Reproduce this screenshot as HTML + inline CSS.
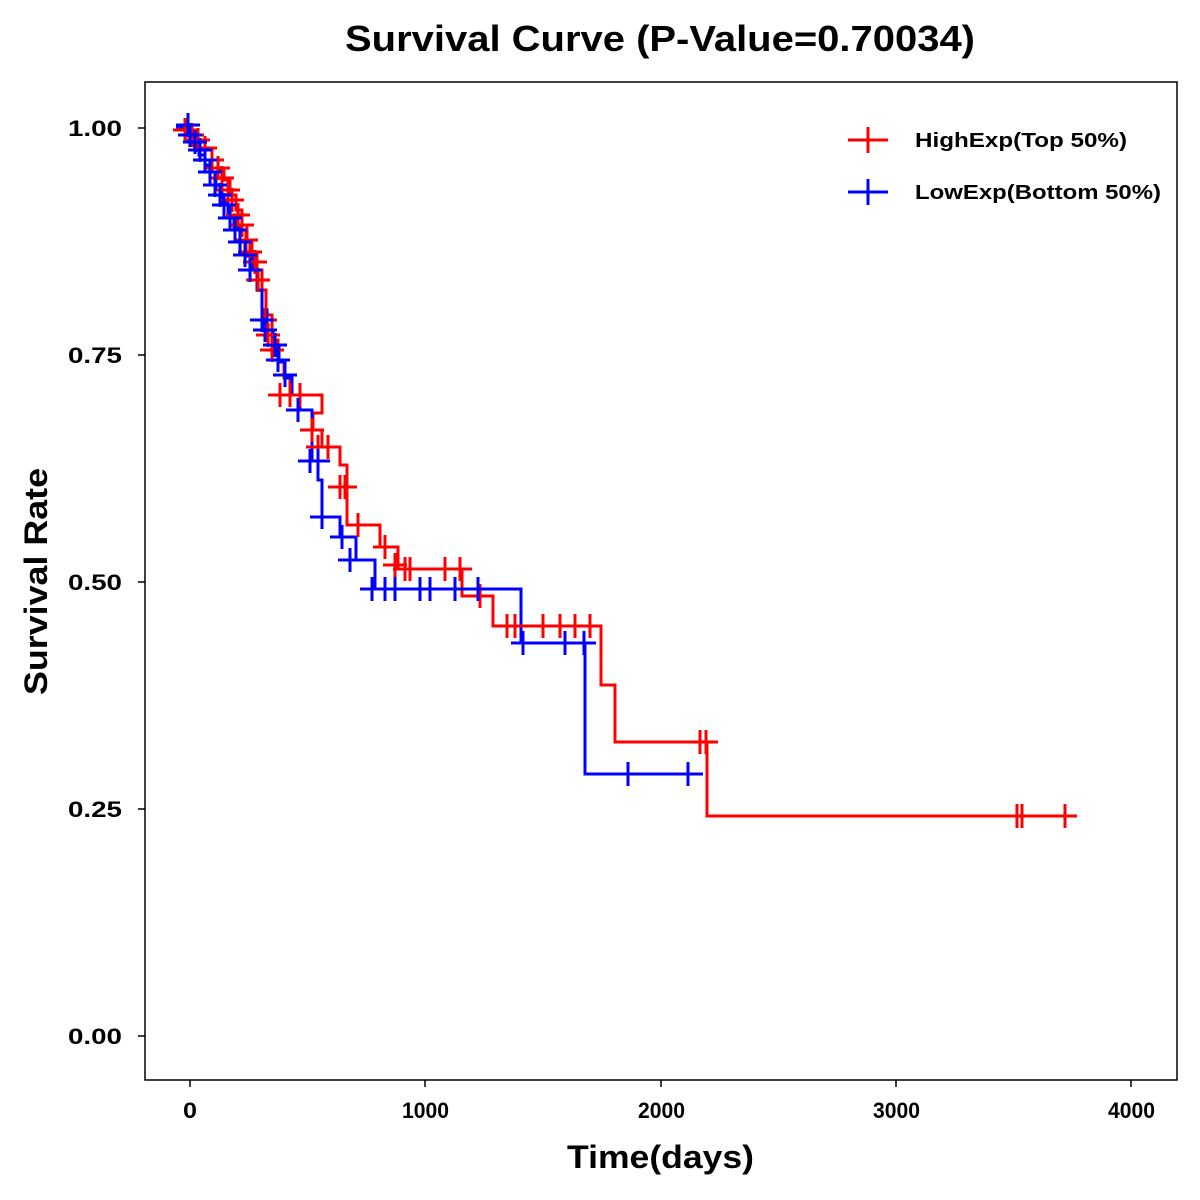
<!DOCTYPE html>
<html><head><meta charset="utf-8"><style>
html,body{margin:0;padding:0;background:#fff;}
svg{display:block;font-family:"Liberation Sans",Arial,sans-serif;}
</style></head><body>
<svg width="1200" height="1200" viewBox="0 0 1200 1200" xmlns="http://www.w3.org/2000/svg">
<rect width="1200" height="1200" fill="#fff"/>
<text x="345" y="51" font-size="36" font-weight="bold" textLength="630" lengthAdjust="spacingAndGlyphs">Survival Curve (P-Value=0.70034)</text>
<rect x="145" y="82" width="1032" height="998" fill="none" stroke="#000" stroke-width="1.5"/>
<g stroke="#000" stroke-width="1.5">
<line x1="138" y1="128" x2="145" y2="128"/><line x1="138" y1="355" x2="145" y2="355"/><line x1="138" y1="582" x2="145" y2="582"/><line x1="138" y1="809" x2="145" y2="809"/><line x1="138" y1="1036" x2="145" y2="1036"/>
<line x1="190" y1="1080" x2="190" y2="1087"/><line x1="425" y1="1080" x2="425" y2="1087"/><line x1="661" y1="1080" x2="661" y2="1087"/><line x1="896" y1="1080" x2="896" y2="1087"/><line x1="1131" y1="1080" x2="1131" y2="1087"/>
</g>
<g font-size="22" font-weight="bold">
<text x="68" y="136" textLength="54" lengthAdjust="spacingAndGlyphs">1.00</text>
<text x="68" y="363" textLength="54" lengthAdjust="spacingAndGlyphs">0.75</text>
<text x="68" y="590" textLength="54" lengthAdjust="spacingAndGlyphs">0.50</text>
<text x="68" y="817" textLength="54" lengthAdjust="spacingAndGlyphs">0.25</text>
<text x="68" y="1044" textLength="54" lengthAdjust="spacingAndGlyphs">0.00</text>
</g>
<g font-size="22" font-weight="bold">
<text x="183" y="1118" textLength="14" lengthAdjust="spacingAndGlyphs">0</text>
<text x="402" y="1118" textLength="47" lengthAdjust="spacingAndGlyphs">1000</text>
<text x="638" y="1118" textLength="47" lengthAdjust="spacingAndGlyphs">2000</text>
<text x="873" y="1118" textLength="47" lengthAdjust="spacingAndGlyphs">3000</text>
<text x="1108" y="1118" textLength="47" lengthAdjust="spacingAndGlyphs">4000</text>
</g>
<text x="567" y="1168" font-size="32" font-weight="bold" textLength="187" lengthAdjust="spacingAndGlyphs">Time(days)</text>
<text transform="translate(47,695) rotate(-90)" font-size="32" font-weight="bold" textLength="227" lengthAdjust="spacingAndGlyphs">Survival Rate</text>

<g fill="none" stroke-width="3">
<path stroke="#f00" d="M178 128 H190 V134 H198 V142 H205 V150 H212 V160 H218 V170 H224 V180 H230 V195 H236 V210 H242 V225 H247 V240 H252 V255 H257 V270 H262 V290 H266 V315 H272 V340 H278 V360 H284 V378 H290 V395 H322 V413 H313 V430 H322 V447 H340 V465 H347 V525 H380 V547 H398 V569 H462 V596 H493 V626 H601 V685 H615 V742 H707 V816 H1075"/>
<path stroke="#00f" d="M176 128 H186 V136 H193 V145 H199 V155 H205 V165 H210 V178 H216 V190 H222 V202 H228 V215 H234 V228 H240 V242 H246 V256 H252 V270 H257 V290 H262 V310 H267 V330 H273 V345 H279 V362 H285 V378 H292 V395 H300 V410 H312 V461 H318 V480 H322 V517 H340 V537 H356 V560 H375 V589 H521 V643 H585 V774 H703"/>
<path stroke="#f00" d="M185 130m-12 0h24m-12 -12v24M192 135m-12 0h24m-12 -12v24M198 140m-12 0h24m-12 -12v24M205 148m-12 0h24m-12 -12v24M212 160m-12 0h24m-12 -12v24M218 168m-12 0h24m-12 -12v24M222 178m-12 0h24m-12 -12v24M228 190m-12 0h24m-12 -12v24M232 200m-12 0h24m-12 -12v24M238 215m-12 0h24m-12 -12v24M242 225m-12 0h24m-12 -12v24M246 240m-12 0h24m-12 -12v24M250 252m-12 0h24m-12 -12v24M255 262m-12 0h24m-12 -12v24M258 280m-12 0h24m-12 -12v24M265 320m-12 0h24m-12 -12v24M268 335m-12 0h24m-12 -12v24M272 350m-12 0h24m-12 -12v24M280 395m-12 0h24m-12 -12v24M290 395m-12 0h24m-12 -12v24M300 395m-12 0h24m-12 -12v24M312 430m-12 0h24m-12 -12v24M318 447m-12 0h24m-12 -12v24M328 447m-12 0h24m-12 -12v24M340 487m-12 0h24m-12 -12v24M345 487m-12 0h24m-12 -12v24M358 525m-12 0h24m-12 -12v24M385 547m-12 0h24m-12 -12v24M395 565m-12 0h24m-12 -12v24M405 569m-12 0h24m-12 -12v24M410 569m-12 0h24m-12 -12v24M445 569m-12 0h24m-12 -12v24M460 569m-12 0h24m-12 -12v24M480 596m-12 0h24m-12 -12v24M507 626m-12 0h24m-12 -12v24M515 626m-12 0h24m-12 -12v24M543 626m-12 0h24m-12 -12v24M560 626m-12 0h24m-12 -12v24M575 626m-12 0h24m-12 -12v24M590 626m-12 0h24m-12 -12v24M700 742m-12 0h24m-12 -12v24M706 742m-12 0h24m-12 -12v24M1017 816m-12 0h24m-12 -12v24M1022 816m-12 0h24m-12 -12v24M1065 816m-12 0h24m-12 -12v24"/>
<path stroke="#00f" d="M188 125m-12 0h24m-12 -12v24M190 135m-12 0h24m-12 -12v24M195 142m-12 0h24m-12 -12v24M200 150m-12 0h24m-12 -12v24M205 160m-12 0h24m-12 -12v24M210 172m-12 0h24m-12 -12v24M215 185m-12 0h24m-12 -12v24M220 195m-12 0h24m-12 -12v24M224 205m-12 0h24m-12 -12v24M230 218m-12 0h24m-12 -12v24M235 230m-12 0h24m-12 -12v24M240 242m-12 0h24m-12 -12v24M245 255m-12 0h24m-12 -12v24M250 270m-12 0h24m-12 -12v24M262 320m-12 0h24m-12 -12v24M265 330m-12 0h24m-12 -12v24M275 345m-12 0h24m-12 -12v24M278 360m-12 0h24m-12 -12v24M285 375m-12 0h24m-12 -12v24M298 410m-12 0h24m-12 -12v24M310 461m-12 0h24m-12 -12v24M318 461m-12 0h24m-12 -12v24M322 517m-12 0h24m-12 -12v24M342 537m-12 0h24m-12 -12v24M350 560m-12 0h24m-12 -12v24M372 589m-12 0h24m-12 -12v24M385 589m-12 0h24m-12 -12v24M395 589m-12 0h24m-12 -12v24M420 589m-12 0h24m-12 -12v24M430 589m-12 0h24m-12 -12v24M455 589m-12 0h24m-12 -12v24M478 589m-12 0h24m-12 -12v24M523 643m-12 0h24m-12 -12v24M565 643m-12 0h24m-12 -12v24M584 643m-12 0h24m-12 -12v24M628 774m-12 0h24m-12 -12v24M688 774m-12 0h24m-12 -12v24"/>
<path stroke="#f00" d="M848 140h40M868 127v26"/>
<path stroke="#00f" d="M848 192h40M868 179v26"/>
</g>
<g font-size="20" font-weight="bold">
<text x="915" y="147" textLength="212" lengthAdjust="spacingAndGlyphs">HighExp(Top 50%)</text>
<text x="915" y="199" textLength="246" lengthAdjust="spacingAndGlyphs">LowExp(Bottom 50%)</text>
</g>
</svg>
</body></html>
